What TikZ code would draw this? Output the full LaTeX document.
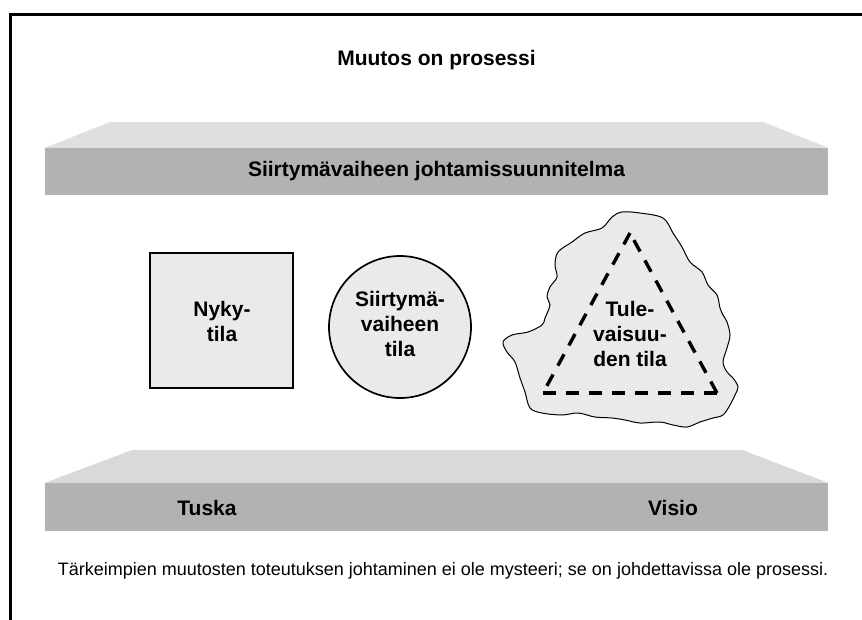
\documentclass[tikz,border=0pt]{standalone}
\usepackage{fontspec}
\setmainfont{Liberation Sans}
\begin{document}
\begin{tikzpicture}[x=1pt,y=-1pt,
  bigtxt/.style={font=\fontsize{21}{25}\selectfont\bfseries, align=center},
  barface/.style={fill=barlight, draw=none},
  barbody/.style={fill=bardark, draw=none, rectangle, minimum width=783, minimum height=47, inner sep=0},
  statebox/.style={fill=statefill, draw=black, line width=1.7, inner sep=0},
  frameline/.style={line width=3, line cap=rect},
  dashtri/.style={line width=3.4, dash pattern=on 13pt off 10pt, line cap=butt}]
\definecolor{barlight}{HTML}{DFDFDF}
\definecolor{barlightb}{HTML}{D9D9D9}
\definecolor{bardark}{HTML}{B2B2B2}
\definecolor{statefill}{HTML}{EAEAEA}
\useasboundingbox (0,0) rectangle (862,619);

% frame: only the top and left edges are visible
\coordinate (fbl) at (10.5,619);
\coordinate (ftl) at (10.5,14.5);
\coordinate (ftr) at (862,14.5);
\draw[frameline] (fbl) -- (ftl) -- (ftr);

% title
\node[bigtxt] (title) at (436.5,60) {Muutos on prosessi};

% upper bar: management plan
\node[barbody] (plan) at (436.5,171.5) {};
\fill[barface] (plan.north west) -- ++(66,-26) -- ++(652,0) -- (plan.north east) -- cycle;
\node[bigtxt] (plantext) at (plan.center) {Siirtymävaiheen johtamissuunnitelma};

% lower bar: pain and vision
\node[barbody, minimum height=48] (base) at (436.5,507) {};
\fill[barlightb, draw=none] (base.north west) -- ++(88,-33) -- ++(609,0) -- (base.north east) -- cycle;
\node[bigtxt] (tuska) at (207,508) {Tuska};
\node[bigtxt] (visio) at (673,508) {Visio};

% current state
\node[statebox, rectangle, minimum width=143, minimum height=135] (nyky) at (221.5,320.5) {};
\node[bigtxt] (nykytext) at (222,321) {Nyky-\\tila};

% transition state
\node[statebox, circle, minimum size=142] (siirtyma) at (400,327) {};
\node[bigtxt] (siirtymatext) at (400,324) {Siirtymä-\\vaiheen\\tila};

% future state: irregular cloud with a dashed triangle
\filldraw[fill=statefill, draw=black, line width=1]
  plot[smooth cycle, tension=0.55] coordinates {
  (622,212) (640,213) (663,218) (673,233) (682,247) (690,262) (702,272)
  (708,285) (717,295) (720,308) (723,315) (727,322) (730,335) (727,348)
  (723,362) (727,372) (733,378) (738,387) (735,395) (730,405) (723,415)
  (713,418) (700,422) (687,427) (673,425) (660,422) (640,423) (625,420)
  (612,418) (595,417) (578,413) (562,415) (542,413) (530,408) (525,392)
  (520,378) (515,362) (507,352) (503,342) (512,335) (528,332) (542,325)
  (545,318) (550,305) (547,297) (550,287) (557,277) (555,265) (558,252)
  (572,242) (585,233) (602,228) (612,217)};
\coordinate (tapex) at (630,233);
\coordinate (tleft) at (543,393);
\coordinate (tright) at (717,393);
\draw[dashtri] (tapex) -- (tleft);
\draw[dashtri] (tleft) -- (tright);
\draw[dashtri] (tright) -- (tapex);
\node[bigtxt] (tuleva) at (630,334) {Tule-\\vaisuu-\\den tila};

% caption
\node[font=\fontsize{18}{20}\selectfont] (caption) at (443,571)
  {Tärkeimpien muutosten toteutuksen johtaminen ei ole mysteeri; se on johdettavissa ole prosessi.};
\end{tikzpicture}
\end{document}
